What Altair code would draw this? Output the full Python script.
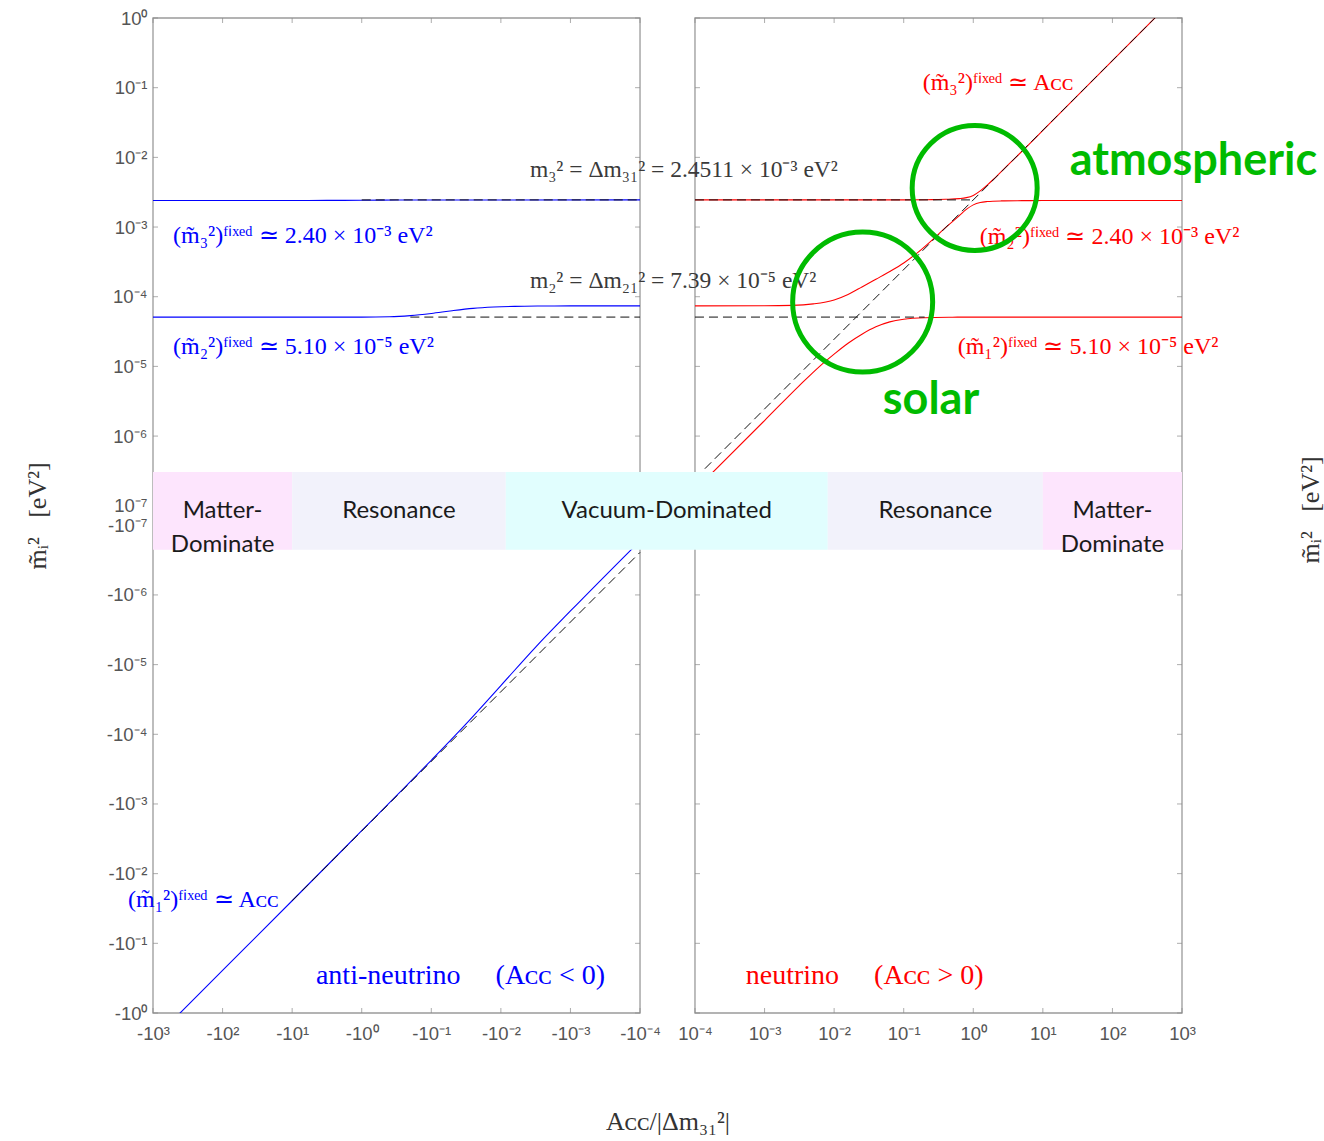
import json
import altair as alt
import pandas as pd

# ---------------------------------------------------------------------------
# Broken log axes: two panels (A_CC < 0 | A_CC > 0) and two halves in y
# (+1e-7 .. +1e0 on top, -1e-7 .. -1e0 below).  Distances are in decades.
# ---------------------------------------------------------------------------
GAP_X = 0.79          # blank strip between the two panels
GAP_Y = 0.28          # strip between +1e-7 and -1e-7
X_DOMAIN = [0, 14 + GAP_X]
Y_DOMAIN = [-(14 + GAP_Y), 0]


def cx_expr(f):
    return (f"(datum.{f} < 0 ? 3 - log(-datum.{f}) / LN10 "
            f": {11 + GAP_X} + log(datum.{f}) / LN10)")


def cy_expr(f):
    return (f"(datum.{f} > 0 ? log(datum.{f}) / LN10 "
            f": {-(14 + GAP_Y)} - log(-datum.{f}) / LN10)")


# ---------------------------------------------------------------------------
# Data.  x = A_CC/|Δm²31| = ±10**e ; y = effective mass squared m̃² [eV²]
# ---------------------------------------------------------------------------
# anti-neutrino (x = -10**e)
ANTI_E_M3 = [3, 1, 0.5, 0, -0.5, -1, -4]
ANTI_M3 = [2.400e-3, 2.402e-3, 2.41e-3, 2.425e-3, 2.443e-3, 2.448e-3, 2.4511e-3]
ANTI_E_M2 = [3, 0, -0.4, -0.7, -1.0, -1.3, -1.6, -1.9, -2.2, -2.6, -3, -4]
ANTI_M2 = [5.10e-5, 5.10e-5, 5.15e-5, 5.35e-5, 5.75e-5, 6.3e-5, 6.8e-5, 7.1e-5,
           7.27e-5, 7.35e-5, 7.38e-5, 7.39e-5]
ANTI_E_M1 = [3, 2, 1, 0, -0.5, -1, -1.5, -2, -2.5, -3, -4]
ANTI_M1 = [-2.4511, -0.2451, -2.450e-2, -2.42e-3, -7.6e-4, -2.36e-4, -7.1e-5,
           -2.0e-5, -5.6e-6, -1.7e-6, -1.67e-7]

# neutrino (x = +10**e)
NU_E_M1 = [-4, -3, -2.5, -2.2, -2.0, -1.8, -1.6, -1.4, -1.2, -1.0, -0.7, -0.3, 0, 3]
NU_M1 = [1.67e-7, 1.67e-6, 5.3e-6, 1.02e-5, 1.5e-5, 2.15e-5, 2.9e-5, 3.7e-5,
         4.35e-5, 4.75e-5, 5.0e-5, 5.08e-5, 5.10e-5, 5.10e-5]
NU_E_M2 = [-4, -3, -2.6, -2.3, -2.0, -1.8, -1.6, -1.4, -1.2, -1.0, -0.8, -0.6,
           -0.4, -0.2, -0.1, 0, 0.1, 0.2, 0.4, 0.7, 1, 3]
NU_M2 = [7.39e-5, 7.40e-5, 7.5e-5, 7.9e-5, 9.0e-5, 1.08e-4, 1.38e-4, 1.78e-4,
         2.3e-4, 3.05e-4, 4.3e-4, 6.4e-4, 9.8e-4, 1.46e-3, 1.79e-3, 2.08e-3,
         2.25e-3, 2.32e-3, 2.37e-3, 2.39e-3, 2.40e-3, 2.40e-3]
NU_E_M3 = [-4, -1, -0.6, -0.4, -0.2, -0.1, 0, 0.1, 0.2, 0.3, 0.5, 0.75, 1, 2, 3]
NU_M3 = [2.4511e-3, 2.455e-3, 2.47e-3, 2.5e-3, 2.56e-3, 2.64e-3, 2.84e-3, 3.3e-3,
         4.0e-3, 4.95e-3, 7.8e-3, 1.37e-2, 2.44e-2, 0.2451, 2.451]

# dashed reference lines: vacuum m3², fixed m̃² and m̃² = A_CC
REF_M3_X = [-1.0, -1e-4, 1e-4, 1.0]
REF_M3_Y = [2.4511e-3, 2.4511e-3, 2.4511e-3, 2.4511e-3]
REF_FIX_X = [-0.2, -1e-4, 1e-4, 0.2]
REF_FIX_Y = [5.10e-5, 5.10e-5, 5.10e-5, 5.10e-5]
REF_ACC_X = [-10.0, -1e-4, 1e-4, 1e3]
REF_ACC_Y = [-2.4511e-2, -2.4511e-7, 2.4511e-7, 2.4511]

# tick labels
X_LABELS_L = ["-10³", "-10²", "-10¹", "-10⁰", "-10⁻¹", "-10⁻²", "-10⁻³", "-10⁻⁴"]
X_LABELS_R = ["10⁻⁴", "10⁻³", "10⁻²", "10⁻¹", "10⁰", "10¹", "10²", "10³"]
Y_LABELS_P = ["10⁰", "10⁻¹", "10⁻²", "10⁻³", "10⁻⁴", "10⁻⁵", "10⁻⁶", "10⁻⁷"]
Y_LABELS_N = ["-10⁻⁷", "-10⁻⁶", "-10⁻⁵", "-10⁻⁴", "-10⁻³", "-10⁻²", "-10⁻¹", "-10⁰"]
X_TICKS = [-1e3, -1e2, -1e1, -1.0, -1e-1, -1e-2, -1e-3, -1e-4,
           1e-4, 1e-3, 1e-2, 1e-1, 1.0, 1e1, 1e2, 1e3]
Y_TICKS = [1.0, 1e-1, 1e-2, 1e-3, 1e-4, 1e-5, 1e-6, 1e-7,
           -1e-7, -1e-6, -1e-5, -1e-4, -1e-3, -1e-2, -1e-1, -1.0]

# regime bands
BAND_X = [-1e3, -10.0, -8.5e-3, 8.1e-3, 10.0, 1e3]
BAND_Y = [3.06e-7, -2.25e-7]
BAND_KIND = ["matter", "resonance", "vacuum", "resonance", "matter"]
BAND_TEXT = ["Matter-\nDominate", "Resonance", "Vacuum-Dominated", "Resonance",
             "Matter-\nDominate"]

# ---------------------------------------------------------------------------
BLUE, RED, GREEN = "#0000ff", "#ff0000", "#00bb00"
SERIF = "Liberation Serif"
NB = "\u00a0"

x_vals = [float(i) for i in range(8)] + [round(7 + GAP_X + i, 4) for i in range(8)]
y_vals = [float(-i) for i in range(8)] + [round(-7 - GAP_Y - i, 4) for i in range(8)]
xl = json.dumps(X_LABELS_L, ensure_ascii=False)
xr = json.dumps(X_LABELS_R, ensure_ascii=False)
yp = json.dumps(Y_LABELS_P, ensure_ascii=False)
yn = json.dumps(Y_LABELS_N, ensure_ascii=False)

Y_TITLE = f"m̃ᵢ²{NB * 3}[eV²]"

X_AXIS = alt.Axis(values=x_vals,
                  labelExpr=f"datum.value < 7.4 ? {xl}[round(datum.value)] : {xr}[round(datum.value - {7 + GAP_X})]",
                  ticks=False, domain=False, grid=False, labelFlush=False, labelOverlap=False,
                  labelFont="Liberation Sans", labelFontSize=18.5, labelColor="#555555", labelPadding=11,
                  title="Aᴄᴄ/|Δm₃₁²|", titleFont=SERIF, titleFontSize=26, titleFontWeight="normal",
                  titleColor="#333333", titlePadding=66)
Y_AXIS = alt.Axis(values=y_vals,
                  labelExpr=f"datum.value > -7.1 ? {yp}[round(-datum.value)] : {yn}[round(-datum.value - {7 + GAP_Y})]",
                  ticks=False, domain=False, grid=False, labelFlush=False, labelOverlap=False,
                  labelFont="Liberation Sans", labelFontSize=18.5, labelColor="#555555", labelPadding=6,
                  title=Y_TITLE, titleFont=SERIF, titleFontSize=26, titleFontWeight="normal",
                  titleColor="#333333", titlePadding=56)

XS = alt.Scale(domain=X_DOMAIN, nice=False, zero=False)
YS = alt.Scale(domain=Y_DOMAIN, nice=False, zero=False)
X = alt.X("cx:Q", scale=XS, axis=X_AXIS)
Y = alt.Y("cy:Q", scale=YS, axis=Y_AXIS)


def placed(chart):
    return chart.transform_calculate(cx=cx_expr("a"), cy=cy_expr("m"))


def boxed(chart):
    return chart.transform_calculate(cx=cx_expr("a"), cx2=cx_expr("a2"),
                                     cy=cy_expr("m"), cy2=cy_expr("m2"))


# ---- curves ---------------------------------------------------------------
rows = []


def add(series, side, sign, exps, vals):
    for e, v in zip(exps, vals):
        rows.append({"series": series, "side": side, "a": sign * 10.0 ** e, "m": v})


add("anti_m3", "anti", -1, ANTI_E_M3, ANTI_M3)
add("anti_m2", "anti", -1, ANTI_E_M2, ANTI_M2)
add("anti_m1", "anti", -1, ANTI_E_M1, ANTI_M1)
add("nu_m1", "nu", 1, NU_E_M1, NU_M1)
add("nu_m2", "nu", 1, NU_E_M2, NU_M2)
add("nu_m3", "nu", 1, NU_E_M3, NU_M3)
curves = pd.DataFrame(rows)

ref_rows = []
for name, xs, ys in [("m3", REF_M3_X, REF_M3_Y), ("fix", REF_FIX_X, REF_FIX_Y),
                     ("acc", REF_ACC_X, REF_ACC_Y)]:
    for x, y in zip(xs, ys):
        ref_rows.append({"series": f"{name}_{'L' if x < 0 else 'R'}", "a": x, "m": y})
refs = pd.DataFrame(ref_rows)

line_layer = placed(alt.Chart(curves)).mark_line(
    clip=True, strokeWidth=1.1, interpolate="monotone").encode(
    x=X, y=Y, detail="series:N",
    color=alt.Color("side:N", scale=alt.Scale(domain=["anti", "nu"], range=[BLUE, RED]), legend=None))

ref_layer = placed(alt.Chart(refs)).mark_line(
    clip=True, strokeWidth=1, color="#111111", strokeDash=[9, 5]).encode(
    x=X, y=Y, detail="series:N")

# ---- panel frames and ticks ----------------------------------------------
frames = pd.DataFrame({"a": [-1e3, 1e-4], "a2": [-1e-4, 1e3], "m": [1.0, 1.0], "m2": [-1.0, -1.0]})
frame_layer = boxed(alt.Chart(frames)).mark_rect(
    fillOpacity=0, stroke="#9a9a9a", strokeWidth=1.3).encode(
    x=X, x2="cx2:Q", y=Y, y2="cy2:Q")

TICK = dict(size=5, thickness=1, color="#8a8a8a")
xt_bottom = pd.DataFrame({"a": X_TICKS, "m": -1.0})
xt_top = pd.DataFrame({"a": X_TICKS, "m": 1.0})
yt_left = pd.DataFrame({"a": [-1e3] * len(Y_TICKS) + [1e-4] * len(Y_TICKS), "m": Y_TICKS * 2})
yt_right = pd.DataFrame({"a": [-1e-4] * len(Y_TICKS) + [1e3] * len(Y_TICKS), "m": Y_TICKS * 2})
tick_layers = [
    placed(alt.Chart(xt_bottom)).mark_tick(orient="vertical", yOffset=-2.5, **TICK).encode(x=X, y=Y),
    placed(alt.Chart(xt_top)).mark_tick(orient="vertical", yOffset=2.5, **TICK).encode(x=X, y=Y),
    placed(alt.Chart(yt_left)).mark_tick(orient="horizontal", xOffset=2.5, **TICK).encode(x=X, y=Y),
    placed(alt.Chart(yt_right)).mark_tick(orient="horizontal", xOffset=-2.5, **TICK).encode(x=X, y=Y),
]

# ---- regime bands ----------------------------------------------------------
bands = pd.DataFrame({"a": BAND_X[:-1], "a2": BAND_X[1:], "m": BAND_Y[0], "m2": BAND_Y[1],
                      "kind": BAND_KIND, "label": BAND_TEXT})
band_color = alt.Color("kind:N", scale=alt.Scale(domain=["matter", "resonance", "vacuum"],
                                                 range=["#fde5fd", "#f2f2fb", "#e1fefe"]), legend=None)
band_layer = boxed(alt.Chart(bands)).mark_rect(strokeWidth=0).encode(
    x=X, x2="cx2:Q", y=Y, y2="cy2:Q", color=band_color)
# labels sit at the middle of each band
band_text = alt.Chart(bands).transform_calculate(
    cx=f"({cx_expr('a')} + {cx_expr('a2')}) / 2",
    cy=f"({cy_expr('m')} + {cy_expr('m2')}) / 2").mark_text(
    font="Lato", fontSize=24, color="#1a1a1a", lineBreak="\n", lineHeight=34,
    align="center", baseline="middle").encode(x=X, y=Y, text="label:N")

# ---- annotations (anchored in data coordinates) ---------------------------
SP = NB * 5
NOTES = [
    ("m₃² = Δm₃₁² = 2.4511 × 10⁻³ eV²", -10 ** -2.417, 6.6e-3, "#3a3a3a", 23.5),
    ("m₂² = Δm₂₁² = 7.39 × 10⁻⁵ eV²", -10 ** -2.417, 1.69e-4, "#3a3a3a", 23.5),
    ("(m̃₃²)ᶠⁱˣᵉᵈ ≃ 2.40 × 10⁻³ eV²", -10 ** 2.713, 7.45e-4, BLUE, 24),
    ("(m̃₂²)ᶠⁱˣᵉᵈ ≃ 5.10 × 10⁻⁵ eV²", -10 ** 2.713, 1.9e-5, BLUE, 24),
    ("(m̃₁²)ᶠⁱˣᵉᵈ ≃ Aᴄᴄ", -10 ** 3.359, -2.37e-2, BLUE, 24),
    (f"anti-neutrino{SP}(Aᴄᴄ < 0)", -10 ** 0.658, -0.292, BLUE, 28),
    ("(m̃₃²)ᶠⁱˣᵉᵈ ≃ Aᴄᴄ", 10 ** -0.727, 0.1168, RED, 24),
    ("(m̃₂²)ᶠⁱˣᵉᵈ ≃ 2.40 × 10⁻³ eV²", 10 ** 0.092, 7.2e-4, RED, 24),
    ("(m̃₁²)ᶠⁱˣᵉᵈ ≃ 5.10 × 10⁻⁵ eV²", 10 ** -0.224, 1.9e-5, RED, 24),
    (f"neutrino{SP}(Aᴄᴄ > 0)", 10 ** -3.27, -0.292, RED, 28),
]
note_layers = []
for text, a, m, color, size in NOTES:
    note_layers.append(
        placed(alt.Chart(pd.DataFrame({"a": [a], "m": [m], "t": [text]}))).mark_text(
            font=SERIF, fontSize=size, color=color, align="left", baseline="middle").encode(
            x=X, y=Y, text="t:N"))

# resonance rings and their names
rings = pd.DataFrame({"a": [10 ** 0.02, 10 ** -1.59], "m": [3.64e-3, 8.4e-5],
                      "d": ["atm", "sol"]})
ring_layer = placed(alt.Chart(rings)).mark_point(
    shape="circle", filled=False, strokeWidth=5, color=GREEN, opacity=1).encode(
    x=X, y=Y, size=alt.Size("d:N", scale=alt.Scale(domain=["atm", "sol"], range=[15625, 19600]),
                            legend=None))
ring_names = pd.DataFrame({"a": [10 ** 1.385, 10 ** -1.301], "m": [8.87e-3, 3.3e-6],
                           "t": ["atmospheric", "solar"]})
ring_text = placed(alt.Chart(ring_names)).mark_text(
    font="Lato", fontSize=45, fontWeight="bold", color=GREEN, align="left", baseline="middle").encode(
    x=X, y=Y, text="t:N")

# duplicate axis title on the right-hand side of the neutrino panel
right_title = alt.Chart(pd.DataFrame({"t": [Y_TITLE]})).mark_text(
    font=SERIF, fontSize=26, color="#333333", angle=270, align="center", baseline="middle").encode(
    x=alt.value(1158), y=alt.value(492), text="t:N")

chart = alt.layer(
    frame_layer, *tick_layers, line_layer, ref_layer, band_layer, band_text,
    *note_layers, ring_layer, ring_text, right_title,
).resolve_scale(color="independent", size="independent").properties(
    width=1029, height=995,
    autosize=alt.AutoSizeParams(type="none"),
    padding={"left": 153, "top": 18, "right": 142, "bottom": 128},
    background="white",
).configure_view(stroke=None)

chart.save("out.html", embed_options={"renderer": "svg", "actions": False})
